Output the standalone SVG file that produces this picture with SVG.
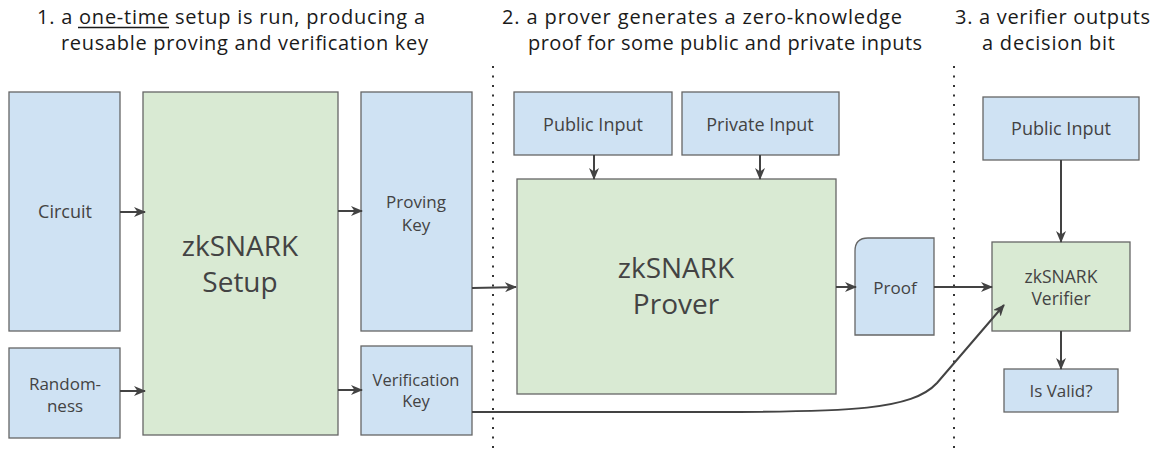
<svg xmlns="http://www.w3.org/2000/svg" width="1159" height="454" viewBox="0 0 1159 454">
  <style>
    .t { font-family: "Open Sans", "Noto Sans", "Liberation Sans", sans-serif; }
    .title { font-size: 20px; fill: #1a1a1a; }
    .lbl { font-size: 17px; fill: #434343; text-anchor: middle; }
    .big { font-size: 28px; fill: #434343; text-anchor: middle; }
    .blue { fill: #cfe2f3; stroke: #666666; stroke-width: 1.3; }
    .green { fill: #d9ead3; stroke: #666666; stroke-width: 1.3; }
    .edge { fill: none; stroke: #434343; stroke-width: 2; }
    .sep { stroke: #333333; stroke-width: 2; stroke-dasharray: 2 7.5; }
  </style>
  <defs>
    <marker id="arr" viewBox="0 0 12 10" refX="11" refY="5" markerWidth="12" markerHeight="10" markerUnits="userSpaceOnUse" orient="auto">
      <path d="M0,0 L12,5 L0,10 L3.5,5 Z" fill="#434343"/>
    </marker>
  </defs>

  <!-- stage captions -->
  <g id="captions" class="t title">
    <text x="37" y="24" textLength="388" lengthAdjust="spacing">1. a one-time setup is run, producing a</text>
    <line x1="78" y1="27.5" x2="169" y2="27.5" stroke="#1a1a1a" stroke-width="1.6"/>
    <text x="61" y="50" textLength="367" lengthAdjust="spacing">reusable proving and verification key</text>
    <text x="502" y="24" textLength="400" lengthAdjust="spacing">2. a prover generates a zero-knowledge</text>
    <text x="528" y="50" textLength="394" lengthAdjust="spacing">proof for some public and private inputs</text>
    <text x="955" y="24" textLength="195" lengthAdjust="spacing">3. a verifier outputs</text>
    <text x="982" y="50" textLength="133" lengthAdjust="spacing">a decision bit</text>
  </g>

  <!-- stage separators -->
  <g id="separators">
    <line class="sep" x1="493" y1="66" x2="493" y2="454"/>
    <line class="sep" x1="954" y1="66" x2="954" y2="454"/>
  </g>

  <g id="circuit">
    <rect class="blue" x="9" y="92" width="111" height="239"/>
    <text class="t lbl" x="65" y="218" style="font-size:18px">Circuit</text>
  </g>
  <g id="randomness">
    <rect class="blue" x="9" y="348" width="111" height="90"/>
    <text class="t lbl" x="65" y="390">Random-</text>
    <text class="t lbl" x="65" y="412">ness</text>
  </g>
  <g id="setup">
    <rect class="green" x="143" y="92" width="195" height="343"/>
    <text class="t big" x="240" y="256">zkSNARK</text>
    <text class="t big" x="240" y="292">Setup</text>
  </g>
  <g id="proving-key">
    <rect class="blue" x="361" y="92" width="111" height="239"/>
    <text class="t lbl" x="416" y="208">Proving</text>
    <text class="t lbl" x="416" y="231">Key</text>
  </g>
  <g id="verification-key">
    <rect class="blue" x="361" y="346" width="111" height="89"/>
    <text class="t lbl" x="416" y="386" style="font-size:16.5px">Verification</text>
    <text class="t lbl" x="416" y="407" style="font-size:16.5px">Key</text>
  </g>
  <g id="public-input-prover">
    <rect class="blue" x="514" y="92" width="158" height="63"/>
    <text class="t lbl" x="593" y="131" style="font-size:18px">Public Input</text>
  </g>
  <g id="private-input">
    <rect class="blue" x="682" y="92" width="157" height="63"/>
    <text class="t lbl" x="760" y="131" style="font-size:18px">Private Input</text>
  </g>
  <g id="prover">
    <rect class="green" x="517" y="179" width="319" height="215"/>
    <text class="t big" x="676" y="278">zkSNARK</text>
    <text class="t big" x="676" y="314">Prover</text>
  </g>
  <g id="proof">
    <path class="blue" d="M855,335 L855,251 Q855,238 868,238 L934,238 L934,335 Z"/>
    <text class="t lbl" x="895" y="294">Proof</text>
  </g>
  <g id="public-input-verifier">
    <rect class="blue" x="983" y="97" width="156" height="63"/>
    <text class="t lbl" x="1061" y="135" style="font-size:18px">Public Input</text>
  </g>
  <g id="verifier">
    <rect class="green" x="992" y="242" width="138" height="89"/>
    <text class="t lbl" x="1061" y="283" style="font-size:17.5px">zkSNARK</text>
    <text class="t lbl" x="1061" y="305" style="font-size:17.5px">Verifier</text>
  </g>
  <g id="is-valid">
    <rect class="blue" x="1004" y="369" width="114" height="43"/>
    <text class="t lbl" x="1061" y="397">Is Valid?</text>
  </g>

  <!-- connectors, drawn last so arrow tips sit on top of the boxes -->
  <g id="connectors">
    <line class="edge" x1="120" y1="212" x2="145" y2="212" marker-end="url(#arr)"/>
    <line class="edge" x1="120" y1="391" x2="145" y2="391" marker-end="url(#arr)"/>
    <line class="edge" x1="338" y1="211" x2="362" y2="211" marker-end="url(#arr)"/>
    <line class="edge" x1="338" y1="390" x2="362" y2="390" marker-end="url(#arr)"/>
    <line class="edge" x1="472" y1="288" x2="516" y2="287" marker-end="url(#arr)"/>
    <line class="edge" x1="594" y1="155" x2="594" y2="179" marker-end="url(#arr)"/>
    <line class="edge" x1="760" y1="155" x2="760" y2="179" marker-end="url(#arr)"/>
    <line class="edge" x1="836" y1="287" x2="856" y2="287" marker-end="url(#arr)"/>
    <line class="edge" x1="934" y1="287" x2="992" y2="287" marker-end="url(#arr)"/>
    <line class="edge" x1="1061" y1="160" x2="1061" y2="242" marker-end="url(#arr)"/>
    <line class="edge" x1="1061" y1="331" x2="1061" y2="369" marker-end="url(#arr)"/>
    <path class="edge" d="M472,412 L713,412 C 850,412 912,410 937,383 L1004,305" marker-end="url(#arr)"/>
  </g>
</svg>
